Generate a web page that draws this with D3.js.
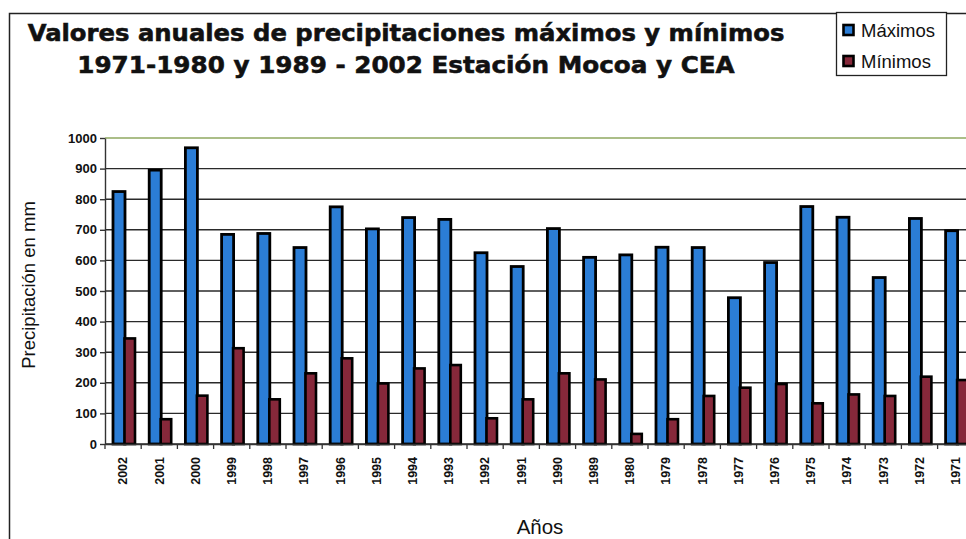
<!DOCTYPE html>
<html><head><meta charset="utf-8">
<script src="https://cdn.jsdelivr.net/npm/d3@7"></script>
<style>html,body{margin:0;padding:0;background:#fff;overflow:hidden}</style>
</head><body>
<svg id="c" width="966" height="539"></svg>
<script>
const years = ["2002","2001","2000","1999","1998","1997","1996","1995","1994","1993","1992","1991","1990","1989","1980","1979","1978","1977","1976","1975","1974","1973","1972","1971"];
const maximos = [825,895,968,685,688,642,775,703,740,734,625,580,704,610,618,643,642,478,593,776,741,544,737,697];
const minimos = [345,81,158,313,146,231,280,198,247,258,84,146,231,211,33,81,157,184,196,133,162,157,220,209];
const yTicks = [0,100,200,300,400,500,600,700,800,900,1000];
const seriesNames = ["Máximos","Mínimos"];
const titleLines = ["Valores anuales de precipitaciones máximos y mínimos","1971-1980 y 1989 - 2002 Estación Mocoa y CEA"];

(function(){
const svg = d3.select("#c");
const blue = "#2b7dd6", red = "#86283a";

// outer frame
svg.append("rect").attr("x",9.5).attr("y",13.5).attr("width",1000).attr("height",600)
  .attr("fill","#fff").attr("stroke","#222").attr("stroke-width",1.5);

const pLeft = 105, pTop = 138, pBottom = 444, bandW = 36.2;
const x = d3.scaleBand().domain(years).range([pLeft, pLeft + bandW*years.length]).padding(0);
const y = d3.scaleLinear().domain([0,1000]).range([pBottom, pTop]);
const sub = d3.scaleBand().domain(["max","min"]).range([8, 31]).padding(0);

// gridlines
svg.append("g").selectAll("line").data(yTicks).join("line")
  .attr("x1",pLeft).attr("x2",pLeft + bandW*years.length)
  .attr("y1",d=>y(d)).attr("y2",d=>y(d))
  .attr("stroke",d=>d===1000?"#8fa860":"#2a2a2a").attr("stroke-width",1.4);

// bars
const g = svg.append("g");
years.forEach((yr,i)=>{
  g.append("rect").attr("x",x(yr)+sub("max")).attr("width",sub.bandwidth()+0.5)
    .attr("y",y(maximos[i])).attr("height",pBottom-y(maximos[i]))
    .attr("fill",blue).attr("stroke","#000").attr("stroke-width",2.8);
  g.append("rect").attr("x",x(yr)+sub("min")).attr("width",sub.bandwidth()-1)
    .attr("y",y(minimos[i])).attr("height",pBottom-y(minimos[i]))
    .attr("fill",red).attr("stroke","#000").attr("stroke-width",2.6);
});

// y axis
const ya = svg.append("g").attr("transform",`translate(${pLeft},0)`)
  .call(d3.axisLeft(y).tickValues(yTicks).tickSize(5).tickSizeOuter(0).tickFormat(d3.format("d")));
ya.select(".domain").attr("stroke","#333").attr("stroke-width",1.4);
ya.selectAll(".tick line").attr("stroke","#333").attr("stroke-width",1.4);
ya.selectAll("text").attr("x",-8).style("font-family","Liberation Sans, Arial").style("font-size","13px").style("font-weight","bold").attr("fill","#111");

// x axis
const xa = svg.append("g").attr("transform",`translate(0,${pBottom})`)
  .call(d3.axisBottom(x).tickSize(0).tickSizeOuter(0));
xa.select(".domain").attr("stroke","#333").attr("stroke-width",1.5);
xa.selectAll(".tick text").attr("transform","rotate(-90)").attr("x",-13).attr("y",0).attr("dy","0.35em")
  .attr("text-anchor","end").style("font-family","Liberation Sans, Arial").style("font-size","12.5px").style("font-weight","bold").attr("fill","#111");
// category boundary ticks
svg.append("g").selectAll("line").data(years).join("line")
  .attr("x1",d=>x(d)).attr("x2",d=>x(d)).attr("y1",pBottom).attr("y2",pBottom+5)
  .attr("stroke","#333").attr("stroke-width",1.3);

// axis titles
svg.append("text").attr("x",540).attr("y",534).attr("text-anchor","middle")
  .style("font-family","Liberation Sans, Arial").style("font-size","20.5px").attr("fill","#111").text("Años");
svg.append("text").attr("transform","translate(35,285) rotate(-90)").attr("text-anchor","middle")
  .style("font-family","Liberation Sans, Arial").style("font-size","18.5px").attr("fill","#111").text("Precipitación en mm");

// title
const tw = [757, 658], tb = [41, 73];
titleLines.forEach((t,i)=>{
  const el = svg.append("text").attr("x",0).attr("y",0).attr("text-anchor","middle")
    .style("font-family","DejaVu Sans, Verdana").style("font-weight","bold").style("font-size","22px")
    .attr("fill","#111").attr("stroke","#111").attr("stroke-width",0.6).text(t);
  const w = el.node().getComputedTextLength();
  const fs = 22*tw[i]/w;
  el.style("font-size",fs.toFixed(2)+"px");
  const sy = 16.5/(0.729*fs);
  el.attr("transform",`translate(406,${tb[i]}) scale(1,${sy.toFixed(3)})`);
});

// legend
const lg = svg.append("g");
lg.append("rect").attr("x",836.5).attr("y",12.5).attr("width",110).attr("height",63)
  .attr("fill","#fff").attr("stroke","#222").attr("stroke-width",1.3);
const lc = [blue, red];
seriesNames.forEach((n,i)=>{
  const cy = 30 + i*31;
  lg.append("rect").attr("x",843.5).attr("y",cy-5).attr("width",10).attr("height",10)
    .attr("fill",lc[i]).attr("stroke","#000").attr("stroke-width",2.6);
  lg.append("text").attr("x",861).attr("y",cy).attr("dy","0.36em")
    .style("font-family","Liberation Sans, Arial").style("font-size","18.5px").attr("fill","#111").text(n);
});
})();
</script>
</body></html>
